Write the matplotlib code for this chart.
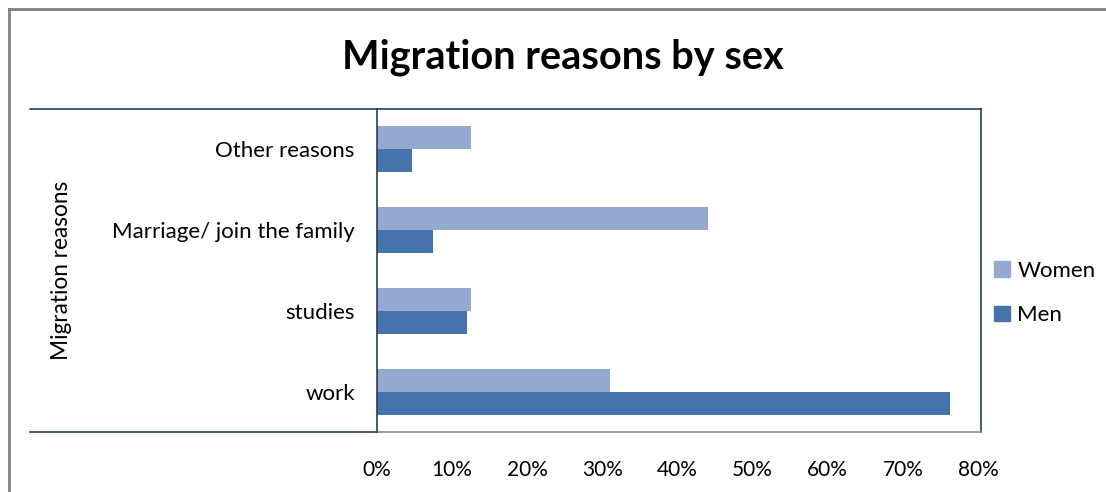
import matplotlib
matplotlib.use("Agg")
import matplotlib.pyplot as plt
import numpy as np
from matplotlib.lines import Line2D
from matplotlib.patches import Patch
from matplotlib.ticker import PercentFormatter

# data (shares, bottom category first)
reasons = ["work", "studies", "Marriage/ join the family", "Other reasons"]
women = [0.31, 0.125, 0.441, 0.125]
men = [0.763, 0.12, 0.075, 0.047]
x_ticks = [0, 0.1, 0.2, 0.3, 0.4, 0.5, 0.6, 0.7, 0.8]

women_color = "#95A9D0"
men_color = "#4674AA"
edge_dark = "#243F60"

plt.rcParams['font.family'] = ['Lato', 'DejaVu Sans']

W, H = 1106, 492
fig = plt.figure(figsize=(W / 100, H / 100), dpi=100)

def fx(px):
    return px / W

def fy(py):
    return 1 - py / H

# plot area
ax = fig.add_axes([fx(377), fy(432), fx(981) - fx(377), fy(109) - fy(432)])

y = np.arange(len(reasons))
bh = 0.285
ax.barh(y - bh / 2, men, height=bh, color=men_color, label="Men")
ax.barh(y + bh / 2, women, height=bh, color=women_color, label="Women")

ax.set_xlim(0, 0.804)
ax.set_ylim(-0.5, len(reasons) - 0.5)
ax.set_yticks(y)
ax.set_yticklabels(reasons, fontsize=16)
ax.set_xticks(x_ticks)
ax.xaxis.set_major_formatter(PercentFormatter(1.0, decimals=0))
ax.tick_params(axis="y", length=0, pad=16)
ax.tick_params(axis="x", length=0, pad=20, labelsize=15)

for side in ["top", "right", "left"]:
    ax.spines[side].set_color(edge_dark)
    ax.spines[side].set_linewidth(1.2)
ax.spines["bottom"].set_color("#8C8C8C")
ax.spines["bottom"].set_linewidth(1.2)

# axis title sits in the framed label block
fig.text(fx(61), fy(270), "Migration reasons", rotation=90, fontsize=16.3,
         ha="center", va="center")

# lines framing the category label block
for py in (109, 432):
    fig.add_artist(Line2D([fx(30), fx(377)], [fy(py), fy(py)],
                          color=edge_dark, lw=1.2))

# outer chart border (top and left visible)
fig.add_artist(Line2D([fx(9), fx(9)], [fy(9), 0], color="#808080", lw=2))
fig.add_artist(Line2D([fx(9), 1], [fy(9), fy(9)], color="#808080", lw=2))

fig.text(fx(563), fy(57), "Migration reasons by sex", fontsize=28.6,
         fontweight="bold", ha="center", va="center")

handles = [Patch(color=women_color), Patch(color=men_color)]
fig.legend(handles, ["Women", "Men"], loc="center left",
           bbox_to_anchor=(fx(974), fy(293)), frameon=False, fontsize=16,
           handlelength=0.7, handleheight=0.7, handletextpad=0.35,
           labelspacing=1.1)

fig.savefig("out.png", dpi=100)
